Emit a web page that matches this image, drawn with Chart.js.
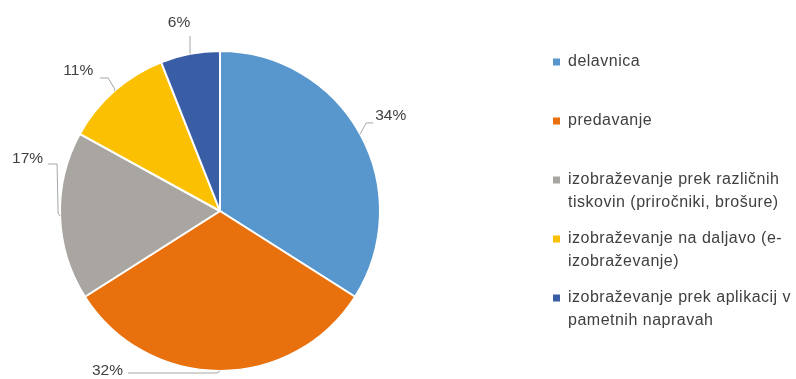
<!DOCTYPE html>
<html>
<head>
<meta charset="utf-8">
<script src="https://cdn.jsdelivr.net/npm/chart.js@4.4.1/dist/chart.umd.min.js"></script>
<style>
  html, body { margin: 0; padding: 0; background: #ffffff; }
  #wrap { width: 796px; height: 379px; position: relative; }
</style>
</head>
<body>
<div id="wrap"><canvas id="chart"></canvas></div>
<script>
// Categories (multi-line legend entries), shares in percent, slice colours
const categories = [
  ['delavnica'],
  ['predavanje'],
  ['izobraževanje prek različnih', 'tiskovin (priročniki, brošure)'],
  ['izobraževanje na daljavo (e-', 'izobraževanje)'],
  ['izobraževanje prek aplikacij v', 'pametnih napravah']
];
const shares = [34, 32, 17, 11, 6];
const sliceColors = ['#5797CD', '#E8700D', '#A9A6A2', '#FBC002', '#3A5EA6'];

// Leader lines: bend points and label anchor, relative to each slice's outer mid-point
const leaderLayout = [
  { pts: [[6, -11], [13, -11]], text: [15, -18], align: 'left' },
  { pts: [[-3, 2], [-92, 2]], text: [-97, 0], align: 'right' },
  { pts: [[-2, -3], [-3, -52], [-12, -52]], text: [-17, -57], align: 'right' },
  { pts: [[1, -1], [-6, -13], [-14, -13]], text: [-21, -20], align: 'right' },
  { pts: [[0, -2], [0, -18]], text: [-11, -31], align: 'center' }
];

const TEXT_COLOR = '#404040';
const LABEL_FONT = '15.5px "Liberation Sans", Arial, sans-serif';
const LEGEND_FONT = '16px "Liberation Sans", Arial, sans-serif';

// Percentage labels with bent leader lines
const leaderLabels = {
  id: 'leaderLabels',
  afterDatasetsDraw(chart) {
    const ctx = chart.ctx;
    const meta = chart.getDatasetMeta(0);
    const values = chart.data.datasets[0].data;
    ctx.save();
    meta.data.forEach((arc, i) => {
      const p = arc.getProps(['x', 'y', 'startAngle', 'endAngle', 'outerRadius'], true);
      const mid = (p.startAngle + p.endAngle) / 2;
      const ax = p.x + Math.cos(mid) * p.outerRadius;
      const ay = p.y + Math.sin(mid) * p.outerRadius;
      const lay = leaderLayout[i];
      ctx.strokeStyle = '#A6A6A6';
      ctx.lineWidth = 1;
      ctx.beginPath();
      ctx.moveTo(ax, ay);
      lay.pts.forEach(([dx, dy]) => ctx.lineTo(ax + dx, ay + dy));
      ctx.stroke();
      ctx.fillStyle = TEXT_COLOR;
      ctx.font = LABEL_FONT;
      ctx.textAlign = lay.align;
      ctx.textBaseline = 'middle';
      ctx.fillText(values[i] + '%', ax + lay.text[0], ay + lay.text[1]);
    });
    ctx.restore();
  }
};

// Legend on the right with wrapped entries
const sideLegend = {
  id: 'sideLegend',
  afterDraw(chart) {
    const ctx = chart.ctx;
    const labels = chart.data.labels;
    const colors = chart.data.datasets[0].backgroundColor;
    const markerX = 553, textX = 568, firstY = 62, step = 59, lineH = 22.5;
    ctx.save();
    ctx.font = LEGEND_FONT;
    ctx.textBaseline = 'middle';
    ctx.textAlign = 'left';
    if ('letterSpacing' in ctx) ctx.letterSpacing = '0.5px';
    labels.forEach((lines, i) => {
      const y = firstY + i * step;
      ctx.fillStyle = colors[i];
      ctx.fillRect(markerX, y - 3.5, 7, 7);
      ctx.fillStyle = TEXT_COLOR;
      lines.forEach((line, k) => ctx.fillText(line, textX, y + k * lineH));
    });
    ctx.restore();
  }
};

new Chart(document.getElementById('chart'), {
  type: 'pie',
  data: {
    labels: categories,
    datasets: [{
      data: shares,
      backgroundColor: sliceColors,
      borderColor: '#ffffff',
      borderWidth: 2
    }]
  },
  options: {
    responsive: true,
    maintainAspectRatio: false,
    animation: false,
    layout: { padding: { left: 59, right: 415, top: 50, bottom: 7 } },
    plugins: {
      legend: { display: false },
      tooltip: { enabled: false }
    }
  },
  plugins: [leaderLabels, sideLegend]
});
</script>
</body>
</html>
